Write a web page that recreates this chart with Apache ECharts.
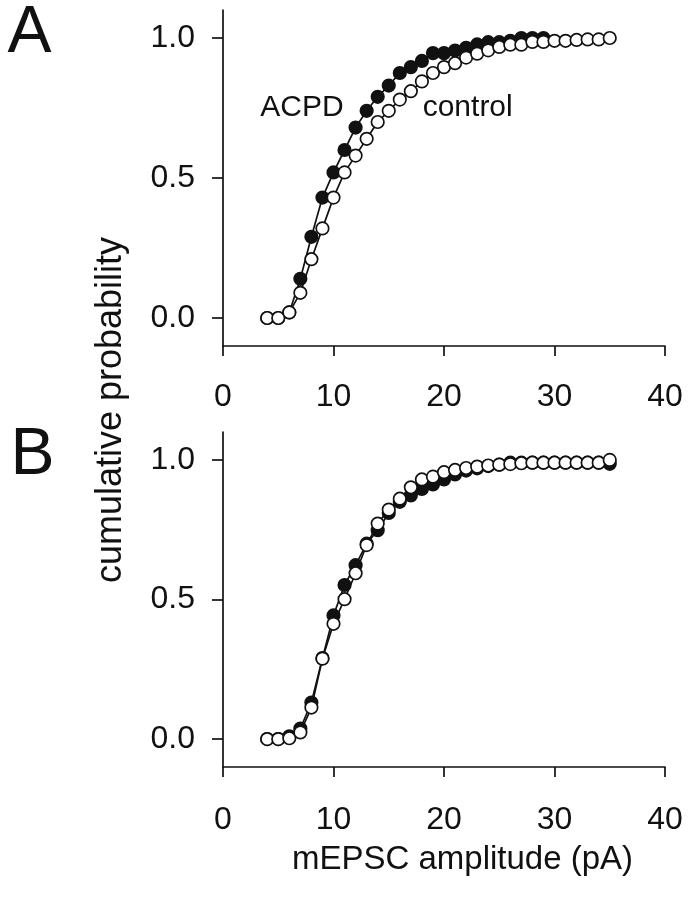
<!DOCTYPE html>
<html>
<head>
<meta charset="utf-8">
<script src="https://cdn.jsdelivr.net/npm/echarts@6/dist/echarts.min.js"></script>
<style>html,body{margin:0;padding:0;background:#fff;}#c{width:694px;height:899px;}</style>
</head>
<body>
<div id="c"></div>
<script>
// Panel A
const ampA_acpd = [4,5,6,7,8,9,10,11,12,13,14,15,16,17,18,19,20,21,22,23,24,25,26,27,28,29];
const probA_acpd = [0,0,0.02,0.14,0.29,0.43,0.52,0.60,0.68,0.74,0.79,0.83,0.875,0.896,0.918,0.946,0.946,0.955,0.965,0.977,0.985,0.985,0.99,1.0,1.0,1.0];
const ampA_ctrl = [4,5,6,7,8,9,10,11,12,13,14,15,16,17,18,19,20,21,22,23,24,25,26,27,28,29,30,31,32,33,34,35];
const probA_ctrl = [0,0,0.02,0.09,0.21,0.32,0.43,0.52,0.58,0.64,0.70,0.74,0.78,0.81,0.845,0.875,0.896,0.91,0.93,0.944,0.956,0.968,0.976,0.976,0.986,0.986,0.99,0.99,0.993,0.995,0.995,1.0];
// Panel B
const ampB_acpd = [4,5,6,7,8,9,10,11,12,13,14,15,16,17,18,19,20,21,22,23,24,25,26,27,28,29,30,31,32,33,34,35];
const probB_acpd = [0,0,0.01,0.038,0.131,0.29,0.443,0.552,0.623,0.70,0.748,0.81,0.85,0.873,0.896,0.912,0.93,0.948,0.962,0.97,0.978,0.983,0.99,0.99,0.99,0.99,0.99,0.99,0.99,0.99,0.99,0.986];
const ampB_ctrl = [4,5,6,7,8,9,10,11,12,13,14,15,16,17,18,19,20,21,22,23,24,25,26,27,28,29,30,31,32,33,34,35];
const probB_ctrl = [0,0,0.003,0.024,0.113,0.288,0.413,0.501,0.594,0.695,0.772,0.822,0.861,0.902,0.93,0.94,0.956,0.964,0.971,0.976,0.98,0.983,0.985,0.988,0.99,0.99,0.99,0.99,0.99,0.99,0.99,1.0];
// Axes
const xTicks = [0,10,20,30,40];
const yTicks = [0,0.5,1.0];

const zip = (xs, ys) => xs.map((x,i)=>[x, ys[i]]);
const numFont = '"Liberation Sans", Arial, sans-serif';
const axisCol = '#111';

function xAx(gi, margin){
  return {
    type:'value', gridIndex:gi, min:xTicks[0], max:xTicks[xTicks.length-1], interval:10,
    axisLine:{onZero:false, lineStyle:{color:axisCol, width:1.7}},
    axisTick:{show:true, inside:false, length:10, lineStyle:{color:axisCol, width:1.7}},
    axisLabel:{margin:margin, color:'#111', fontSize:32, fontFamily:numFont},
    splitLine:{show:false}
  };
}
function yAx(gi){
  return {
    type:'value', gridIndex:gi, min:-0.1, max:1.1,
    axisLine:{show:true, onZero:false, lineStyle:{color:axisCol, width:1.7}},
    axisTick:{show:true, inside:false, length:11, customValues:yTicks, lineStyle:{color:axisCol, width:1.7}},
    axisLabel:{margin:28, color:'#111', fontSize:32, fontFamily:numFont, customValues:yTicks,
      formatter:v=>Number(v).toFixed(1)},
    splitLine:{show:false}
  };
}
function ser(gi, data, filled, z){
  return {
    type:'line', xAxisIndex:gi, yAxisIndex:gi, data:data, z:z,
    symbol:'circle', symbolSize:12.5, showAllSymbol:true,
    lineStyle:{color:'#111', width:1.7},
    itemStyle:{color: filled ? '#111' : '#fff', borderColor:'#111', borderWidth:1.7},
    emphasis:{disabled:true}, animation:false
  };
}

const chart = echarts.init(document.getElementById('c'), null, {renderer:'canvas'});
chart.setOption({
  backgroundColor:'#fff',
  animation:false,
  grid:[
    {left:223, top:10, width:442, height:336},
    {left:223, top:432, width:442, height:335}
  ],
  xAxis:[xAx(0,35), xAx(1,37)],
  yAxis:[yAx(0), yAx(1)],
  series:[
    ser(0, zip(ampA_acpd, probA_acpd), true, 2),
    ser(0, zip(ampA_ctrl, probA_ctrl), false, 3),
    ser(1, zip(ampB_acpd, probB_acpd), true, 2),
    ser(1, zip(ampB_ctrl, probB_ctrl), false, 3)
  ],
  graphic:[
    {type:'text', x:29.5, y:34, style:{text:'A', font:'66px "Liberation Sans"', fill:'#111', textAlign:'center', textVerticalAlign:'middle', align:'center', verticalAlign:'middle'}},
    {type:'text', x:32.5, y:456, style:{text:'B', font:'66px "Liberation Sans"', fill:'#111', textAlign:'center', textVerticalAlign:'middle', align:'center', verticalAlign:'middle'}},
    {type:'text', x:302, y:107.5, style:{text:'ACPD', font:'30px "Liberation Sans"', fill:'#111', textAlign:'center', textVerticalAlign:'middle', align:'center', verticalAlign:'middle'}},
    {type:'text', x:467.7, y:107.5, style:{text:'control', font:'30px "Liberation Sans"', fill:'#111', textAlign:'center', textVerticalAlign:'middle', align:'center', verticalAlign:'middle'}},
    {type:'text', x:111.5, y:410, rotation:Math.PI/2, style:{text:'cumulative probability', font:'36px "Liberation Sans"', fill:'#111', textAlign:'center', textVerticalAlign:'middle', align:'center', verticalAlign:'middle'}},
    {type:'text', x:462.5, y:859.5, style:{text:'mEPSC amplitude (pA)', font:'33px "Liberation Sans"', fill:'#111', textAlign:'center', textVerticalAlign:'middle', align:'center', verticalAlign:'middle'}}
  ]
});
</script>
</body>
</html>
